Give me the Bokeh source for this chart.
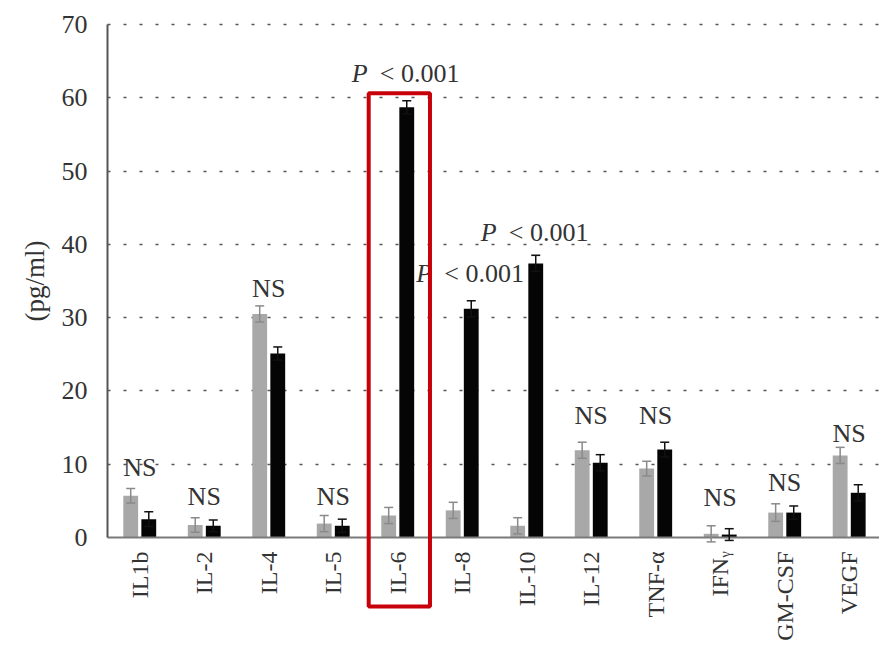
import math
from bokeh.plotting import figure
from bokeh.models import (ColumnDataSource, Range1d, FixedTicker, CustomJSTickFormatter,
                          Whisker, TeeHead, BoxAnnotation)
from bokeh.core.properties import value
from bokeh.embed import file_html
from bokeh.resources import INLINE

# ---- data ----
cytokines = ["IL1b", "IL-2", "IL-4", "IL-5", "IL-6", "IL-8", "IL-10",
             "IL-12", "TNF-α", "IFNᵧ", "GM-CSF", "VEGF"]
gray_vals = [5.7, 1.7, 30.5, 1.9, 3.0, 3.7, 1.6, 11.9, 9.4, 0.5, 3.4, 11.2]
gray_err = [1.0, 1.0, 1.1, 1.1, 1.1, 1.1, 1.1, 1.1, 1.0, 1.1, 1.2, 1.1]
black_vals = [2.5, 1.6, 25.1, 1.6, 58.7, 31.2, 37.4, 10.2, 12.0, 0.4, 3.4, 6.1]
black_err = [1.0, 0.8, 0.9, 0.9, 0.9, 1.1, 1.1, 1.1, 1.0, 0.8, 0.9, 1.1]
notes = ["NS", "NS", "NS", "NS", "P < 0.001", "P < 0.001", "P < 0.001",
         "NS", "NS", "NS", "NS", "NS"]
note_y = [9.5, 5.6, 34.0, 5.6, 63.3, 36.0, 41.6, 16.6, 16.6, 5.5, 7.5, 14.2]
y_ticks = [0, 10, 20, 30, 40, 50, 60, 70]
y_label = "(pg/ml)"
highlight = "IL-6"

FONT = "Liberation Serif"
TXT = "#333333"
OFF = 0.14
W = 0.23
X_END = 11.97

n = len(cytokines)
centers = [i + 0.5 for i in range(n)]

gray_src = ColumnDataSource(dict(
    x=[c - OFF for c in centers], top=gray_vals,
    upper=[v + e for v, e in zip(gray_vals, gray_err)],
    lower=[v - e for v, e in zip(gray_vals, gray_err)]))
black_src = ColumnDataSource(dict(
    x=[c + OFF for c in centers], top=black_vals,
    upper=[v + e for v, e in zip(black_vals, black_err)],
    lower=[v - e for v, e in zip(black_vals, black_err)]))

# frame fills the whole canvas; axes are pinned at x=0 / y=0
p = figure(width=879, height=647, output_backend="svg", toolbar_location=None,
           x_range=Range1d(-1.659, X_END), y_range=Range1d(-15.01, 73.27),
           min_border=0)
p.background_fill_color = "white"
p.border_fill_color = "white"
p.outline_line_color = None

p.vbar(x="x", top="top", width=W, source=gray_src, fill_color="#a8a8a8",
       line_color=None)
p.vbar(x="x", top="top", width=W, source=black_src, fill_color="#050505",
       line_color=None)

for src, col in ((gray_src, "#8a8a8a"), (black_src, "#111111")):
    wk = Whisker(base="x", upper="upper", lower="lower", source=src,
                 line_color=col, line_width=1.5, level="annotation",
                 upper_head=TeeHead(size=9, line_color=col, line_width=1.5),
                 lower_head=TeeHead(size=9, line_color=col, line_width=1.5))
    p.add_layout(wk)

# annotations
ns_x = [c for c, t in zip(centers, notes) if not t.startswith("P")]
ns_y = [y for y, t in zip(note_y, notes) if not t.startswith("P")]
ns_t = [t for t in notes if not t.startswith("P")]
p.text(x=ns_x, y=ns_y, text=ns_t, text_align="center", text_baseline="middle",
       text_font=value(FONT), text_font_size="26px", text_color=TXT)

p_x = [c for c, t in zip(centers, notes) if t.startswith("P")]
p_y = [y for y, t in zip(note_y, notes) if t.startswith("P")]
p_rest = [t[1:].strip() for t in notes if t.startswith("P")]
p.text(x=p_x, y=p_y, text=["P"] * len(p_x), text_align="right",
       text_baseline="middle", x_offset=-30, text_font=value(FONT),
       text_font_style="italic", text_font_size="26px", text_color=TXT)
p.text(x=p_x, y=p_y, text=p_rest, text_align="left",
       text_baseline="middle", x_offset=-18, text_font=value(FONT),
       text_font_size="26px", text_color=TXT)

# y-axis title
p.text(x=[0], y=[(y_ticks[0] + y_ticks[-1]) / 2], text=[y_label], angle=math.pi / 2,
       x_offset=-72, text_align="center", text_baseline="middle",
       text_font=value(FONT), text_font_size="27px", text_color=TXT)

# highlight box around IL-6
hi = cytokines.index(highlight)
box = BoxAnnotation(left=centers[hi] - 0.45, right=centers[hi] + 0.50,
                    top=black_vals[hi] + 1.9, bottom=-9.4,
                    fill_alpha=0, line_color="#c8000a", line_alpha=1.0,
                    line_width=4, level="overlay")
p.add_layout(box)

# axes
p.yaxis.fixed_location = 0
p.yaxis.bounds = (y_ticks[0], y_ticks[-1])
p.yaxis.ticker = FixedTicker(ticks=y_ticks)
p.yaxis.major_label_text_font = FONT
p.yaxis.major_label_text_font_size = "26px"
p.yaxis.major_label_text_color = TXT
p.yaxis.major_label_standoff = 14
p.yaxis.axis_line_color = "#555555"
p.yaxis.axis_line_width = 2
p.yaxis.major_tick_line_color = None
p.yaxis.minor_tick_line_color = None

p.xaxis.fixed_location = 0
p.xaxis.bounds = (0, X_END)
p.xaxis.ticker = FixedTicker(ticks=centers)
p.xaxis.formatter = CustomJSTickFormatter(
    args=dict(labels=cytokines),
    code="const i = Math.round(tick - 0.5); return (i >= 0 && i < labels.length) ? labels[i] : '';")
p.xaxis.major_label_orientation = math.pi / 2
p.xaxis.major_label_text_font = FONT
p.xaxis.major_label_text_font_size = "24px"
p.xaxis.major_label_text_color = TXT
p.xaxis.major_label_standoff = 8
p.xaxis.axis_line_color = "#7a7a7a"
p.xaxis.axis_line_width = 2
p.xaxis.major_tick_line_color = None
p.xaxis.minor_tick_line_color = None

p.xgrid.grid_line_color = None
p.ygrid.ticker = FixedTicker(ticks=y_ticks[1:])
p.ygrid.cross_bounds = (0, X_END)
p.ygrid.grid_line_color = "#555555"
p.ygrid.grid_line_width = 1.5
p.ygrid.grid_line_dash = "3 13"

open("out.html", "w").write(file_html(p, INLINE))
